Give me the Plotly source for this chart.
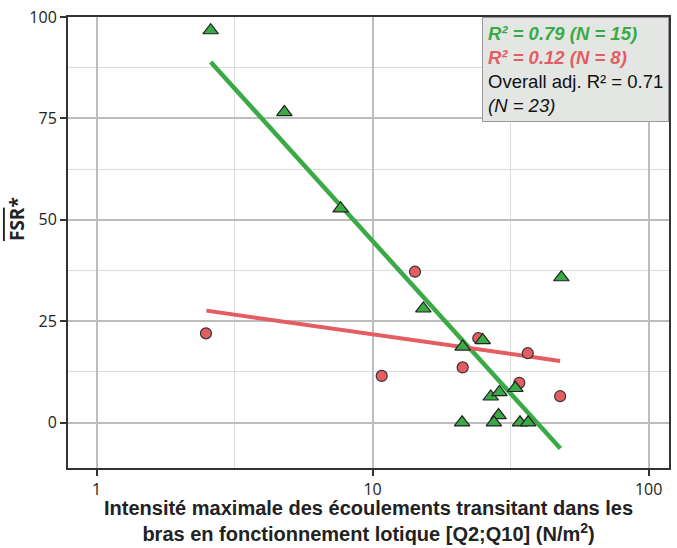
import plotly.graph_objects as go

# Green series (triangles), N = 15
green_x = [2.59, 4.79, 7.66, 15.27, 21.2, 25.06, 48.3, 32.9, 26.8, 28.8, 28.6, 27.5, 21.1, 34.2, 36.6]
green_y = [96.7, 76.5, 52.8, 28.1, 18.7, 20.3, 35.8, 8.5, 6.4, 7.5, 1.8, 0.0, 0.0, 0.0, 0.0]

# Red series (circles), N = 8
red_x = [2.49, 10.79, 14.24, 21.2, 24.15, 34.0, 36.5, 47.8]
red_y = [22.0, 11.5, 37.2, 13.6, 20.8, 9.8, 17.1, 6.5]

# Trend lines (start/end)
green_trend_x = [2.59, 47.9]
green_trend_y = [88.9, -6.4]
red_trend_x = [2.50, 47.8]
red_trend_y = [27.6, 15.2]

x_ticks = [1, 10, 100]
x_tick_labels = ["1", "10", "100"]
y_ticks = [0, 25, 50, 75, 100]

GREEN = "#3aaa47"
RED = "#e35d63"

fig = go.Figure()
fig.add_trace(go.Scatter(x=green_trend_x, y=green_trend_y, mode="lines",
                         line=dict(color=GREEN, width=4.5), hoverinfo="skip"))
fig.add_trace(go.Scatter(x=red_trend_x, y=red_trend_y, mode="lines",
                         line=dict(color=RED, width=4), hoverinfo="skip"))
fig.add_trace(go.Scatter(x=red_x, y=red_y, mode="markers",
                         marker=dict(symbol="circle", size=11, color=RED,
                                     line=dict(color="#333333", width=1.2))))
fig.add_trace(go.Scatter(x=green_x, y=green_y, mode="markers",
                         marker=dict(symbol="triangle-up", size=13.5, color=GREEN,
                                     line=dict(color="#222222", width=1.2))))

tick_font = dict(family="Open Sans, Liberation Sans, Arial", size=16, color="#222222")

fig.update_layout(
    width=677, height=548,
    margin=dict(l=68, r=8, t=17, b=80),
    paper_bgcolor="white", plot_bgcolor="white",
    showlegend=False,
    xaxis=dict(
        type="log", range=[-0.1036, 2.0739], automargin=False,
        tickvals=x_ticks, ticktext=x_tick_labels, tickfont=tick_font,
        ticks="outside", ticklen=6, tickwidth=2, tickcolor="#333333",
        showgrid=True, gridcolor="#bdbdbd", gridwidth=2,
        minor=dict(tickvals=[10 ** 0.5, 10 ** 1.5], showgrid=True,
                   gridcolor="#dcdcdc", gridwidth=1, ticks=""),
        showline=True, linecolor="#333333", linewidth=2, mirror=True,
        zeroline=False,
    ),
    yaxis=dict(
        range=[-11.2, 100], automargin=False,
        tickvals=y_ticks, tickfont=tick_font,
        ticks="outside", ticklen=6, tickwidth=2, tickcolor="#333333",
        showgrid=True, gridcolor="#bdbdbd", gridwidth=2,
        minor=dict(dtick=12.5, tick0=0, showgrid=True,
                   gridcolor="#dcdcdc", gridwidth=1, ticks=""),
        showline=True, linecolor="#333333", linewidth=2, mirror=True,
        zeroline=False,
    ),
)

# x-axis title
fig.add_annotation(
    xref="paper", yref="paper", x=0.5, y=0, xanchor="center", yanchor="top",
    yshift=-27, showarrow=False, align="center",
    text="<b>Intensité maximale des écoulements transitant dans les<br>"
         "bras en fonctionnement lotique [Q2;Q10] (N/m<sup>2</sup>)</b>",
    font=dict(family="Liberation Sans, Arial", size=20, color="#222222"),
)

# y-axis title
fig.add_annotation(
    xref="paper", yref="paper", x=0, y=0.552, xanchor="center", yanchor="middle",
    xshift=-51, textangle=-90, showarrow=False,
    text="<b><span style='text-decoration:overline'>FSR</span>*</b>",
    font=dict(family="Open Sans, Liberation Sans, Arial", size=19, color="#222222"),
)

# statistics box
fig.add_annotation(
    xref="paper", yref="paper", x=1, y=1, xanchor="right", yanchor="top",
    showarrow=False, align="left",
    bgcolor="#e4e6e4", bordercolor="#9a9a9a", borderwidth=1, borderpad=5,
    text=(f"<b><i><span style='color:{GREEN}'>R² = 0.79 (N = 15)</span></i></b><br>"
          f"<b><i><span style='color:{RED}'>R² = 0.12 (N = 8)</span></i></b><br>"
          "Overall adj. R² = 0.71<br>"
          "<i>(N = 23)</i>"),
    font=dict(family="Liberation Sans, Arial", size=18.5, color="#111111"),
)

fig.write_html("out.html", config={"displayModeBar": False},
               post_script="document.body.style.margin='0';document.body.style.overflow='hidden';")
